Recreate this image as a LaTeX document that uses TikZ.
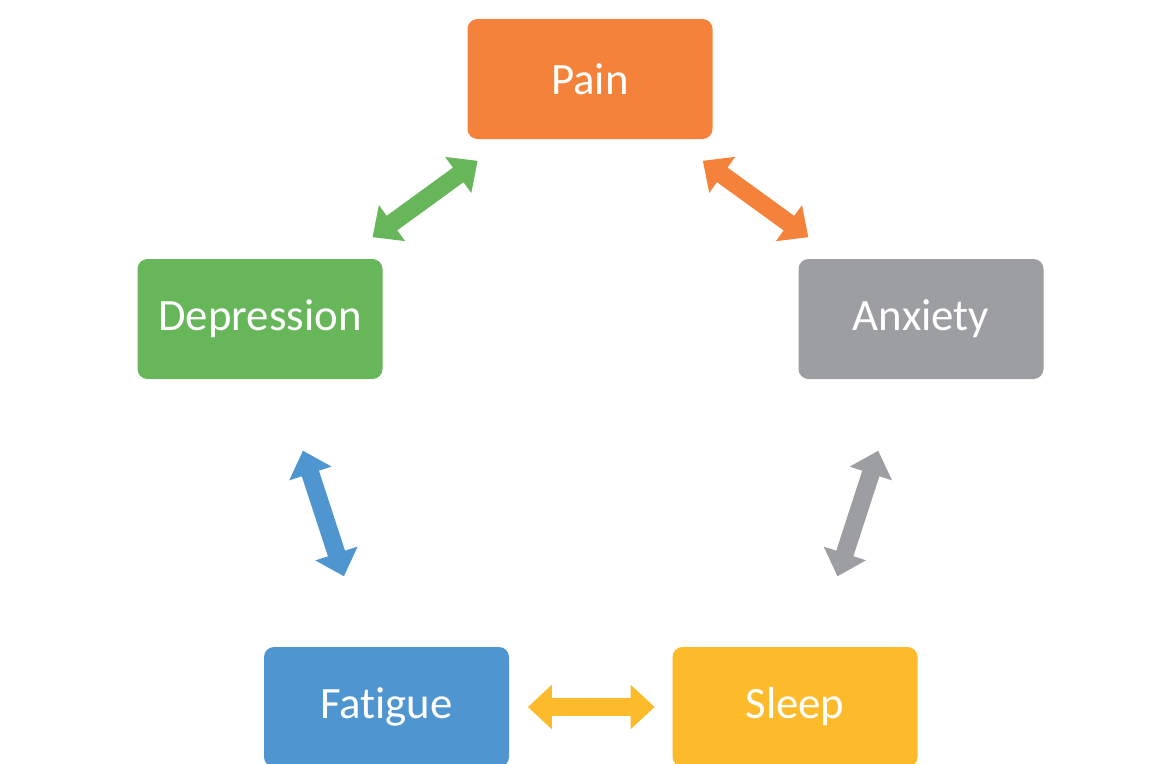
\documentclass[tikz,border=0pt]{standalone}
\usepackage{fontspec}
\setmainfont{Carlito}[Ligatures=NoCommon]
\usetikzlibrary{arrows.meta}

\definecolor{painc}{HTML}{F4823A}
\definecolor{depc}{HTML}{68B65A}
\definecolor{anxc}{HTML}{9D9EA2}
\definecolor{fatc}{HTML}{4F96D1}
\definecolor{sleepc}{HTML}{FDBB2B}

\begin{document}
\begin{tikzpicture}[
  box/.style={rounded corners=0.2cm, minimum width=4.9cm, minimum height=2.4cm,
    text=white, font=\fontsize{25.5}{30}\selectfont, inner sep=0pt},
  link/.style={line width=0.36cm,
    {Triangle[width=0.86cm,length=0.48cm]}-{Triangle[width=0.86cm,length=0.48cm]}}
]
  \useasboundingbox (0,0) rectangle (23.24,-15.26);
  \node[box,fill=painc] (pain) at (11.8,-1.58) {Pain};
  \node[box,fill=depc] (dep) at (5.2,-6.38) {Depression};
  \node[box,fill=anxc] (anx) at (18.42,-6.38) {Anxiety};
  \node[box,fill=fatc] (fat) at (7.73,-14.14) {Fatigue};
  \node[box,fill=sleepc] (sleep) at (15.9,-14.14) {Sleep};
  \draw[link,depc,shorten <=0.73cm,shorten >=0.73cm] (dep) -- (pain);
  \draw[link,painc,shorten <=0.73cm,shorten >=0.73cm] (pain) -- (anx);
  \draw[link,fatc,shorten <=1.5cm,shorten >=1.48cm] (dep) -- (fat);
  \draw[link,anxc,shorten <=1.5cm,shorten >=1.48cm] (anx) -- (sleep);
  \draw[link,sleepc,shorten <=0.37cm,shorten >=0.35cm] (fat) -- (sleep);
\end{tikzpicture}
\end{document}
